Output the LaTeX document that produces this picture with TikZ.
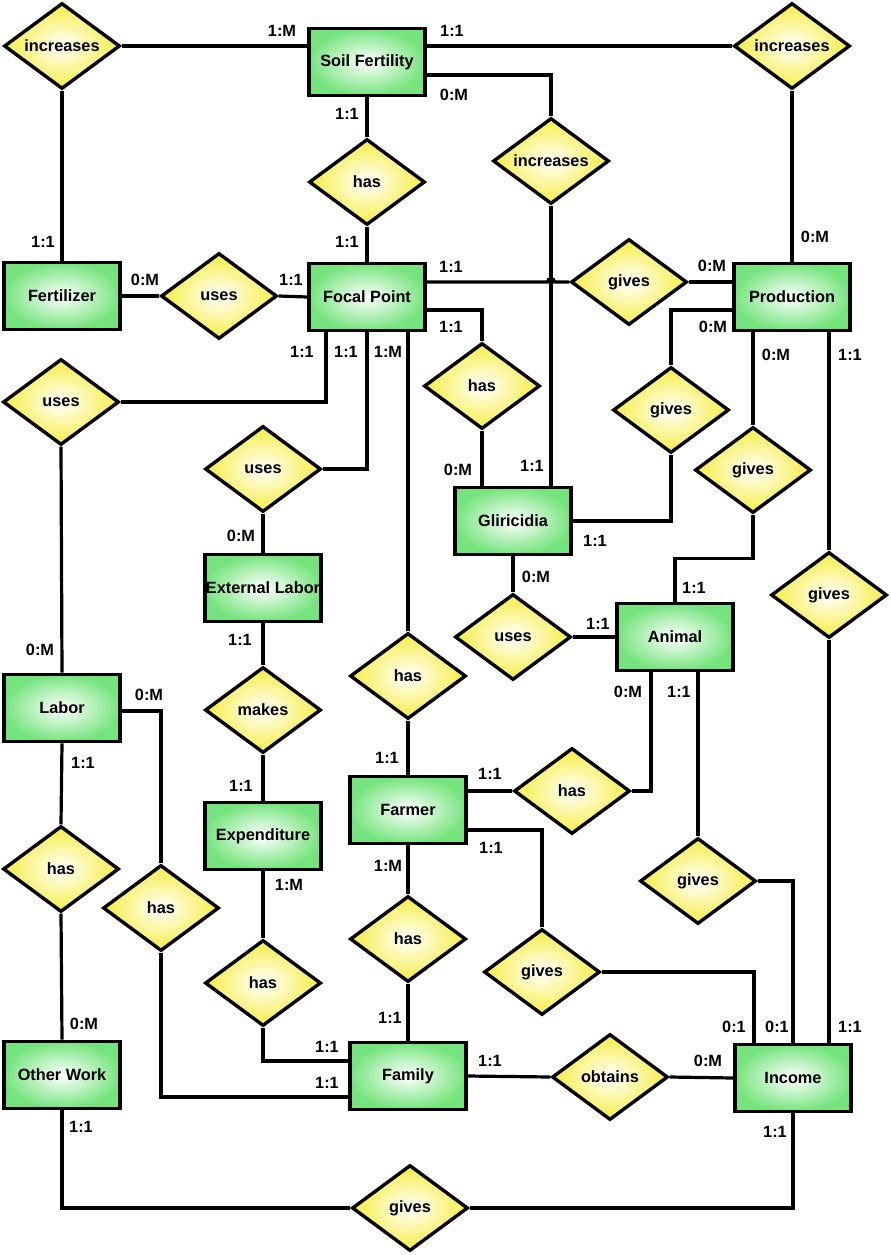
\documentclass[tikz,border=0pt]{standalone}
\usepackage{fontspec}
\setmainfont{Liberation Sans}
\usetikzlibrary{shapes.geometric}
\definecolor{erent}{RGB}{118,228,126}
\definecolor{errel}{RGB}{246,238,68}

\begin{document}
\begin{tikzpicture}[
    x=1pt, y=-1pt,
    font=\fontsize{16.3}{19}\selectfont\bfseries,
    link/.style={draw=black, line width=3.2pt},
    E/.style={rectangle, draw=black, line width=3.6pt, minimum width=116pt, minimum height=67pt,
      inner sep=0pt, inner color=white, outer color=erent},
    R/.style={diamond, draw=black, line width=3.4pt, shape aspect=1.34, minimum width=116pt,
      minimum height=86pt, inner sep=0pt, inner color=white, outer color=errel},
    card/.style={inner sep=0pt},
  ]
  \useasboundingbox (0,0) rectangle (891,1255);

  %% ================= entities =================
  \node[E] (sf)   at (367,62)   {Soil Fertility};
  \node[E] (fert) at (62,296)   {Fertilizer};
  \node[E] (fp)   at (367,297)  {Focal Point};
  \node[E] (prod) at (792,297)  {Production};
  \node[E] (glir) at (513,521)  {Gliricidia};
  \node[E] (ext)  at (263,588)  {External Labor};
  \node[E] (anim) at (675,637)  {Animal};
  \node[E] (lab)  at (62,708)   {Labor};
  \node[E] (farm) at (408,810)  {Farmer};
  \node[E] (expd) at (263,836)  {Expenditure};
  \node[E] (oth)  at (62,1075)  {Other Work};
  \node[E] (fam)  at (408,1076) {Family};
  \node[E] (inc)  at (793,1078) {Income};

  %% ================= relationships =================
  \node[R] (rIncL)     at (62,46)    {increases};
  \node[R] (rIncR)     at (792,46)   {increases};
  \node[R] (rIncM)     at (551,161)  {increases};
  \node[R] (rHasSF)    at (367,182)  {has};
  \node[R] (rUseFert)  at (219,296)  {uses};
  \node[R] (rGiveFP)   at (629,282)  {gives};
  \node[R] (rHasGl)    at (482,386)  {has};
  \node[R] (rGiveGl)   at (671,410)  {gives};
  \node[R] (rGiveAn)   at (753,470)  {gives};
  \node[R] (rGiveInc)  at (829,595)  {gives};
  \node[R] (rUseAn)    at (513,637)  {uses};
  \node[R] (rUseLab)   at (61,402)   {uses};
  \node[R] (rUseExt)   at (263,469)  {uses};
  \node[R] (rHasFarm)  at (408,676)  {has};
  \node[R] (rMakes)    at (263,710)  {makes};
  \node[R] (rHasOth)   at (61,869)   {has};
  \node[R] (rHasLab)   at (161,908)  {has};
  \node[R] (rHasExp)   at (263,983)  {has};
  \node[R] (rHasFam)   at (408,939)  {has};
  \node[R] (rHasAn)    at (572,791)  {has};
  \node[R] (rGiveAI)   at (698,881)  {gives};
  \node[R] (rGiveFarm) at (542,972)  {gives};
  \node[R] (rObt)      at (610,1077) {obtains};
  \node[R] (rGiveOth)  at (410,1208) {gives};

  %% ================= connectors =================
  % top row
  \draw[link] (rIncL.east) -- (sf.west |- rIncL.east);
  \draw[link] (rIncL.south) -- (fert.north);
  \draw[link] (sf.east |- rIncR.west) -- (rIncR.west);
  \draw[link] (rIncR.south) -- (prod.north);
  \draw[link] ([yshift=-13pt]sf.east) -| (rIncM.north);
  \draw[link] (sf.south) -- (rHasSF.north);
  \draw[link] (rHasSF.south) -- (fp.north);

  % focal point row (the line to gives hops over the increases line)
  \coordinate (hop) at (rIncM.south |- rGiveFP.west);
  \draw[link] (rIncM.south) -- (rIncM.south |- glir.north);
  \draw[link] (fert.east) -- (rUseFert.west);
  \draw[link] (rUseFert.east) -- (fp.west);
  \draw[link] (fp.east |- rGiveFP.west) -- ([xshift=-3.5pt]hop)
    arc[start angle=180, end angle=0, radius=3.5pt] -- (rGiveFP.west);
  \draw[link] (rGiveFP.east) -- (prod.west |- rGiveFP.east);
  \draw[link] ([yshift=-13pt]fp.east) -| (rHasGl.north);
  \draw[link] (rHasGl.south) -- (rHasGl.south |- glir.north);

  % production branches
  \draw[link] ([yshift=-13pt]prod.west) -| (rGiveGl.north);
  \draw[link] (rGiveGl.south) |- (glir.east);
  \draw[link] (prod.south -| rGiveAn.north) -- (rGiveAn.north);
  \draw[link] (rGiveAn.south) |- ([yshift=43pt]anim.north) -- (anim.north);
  \draw[link] (prod.south -| rGiveInc.north) -- (rGiveInc.north);
  \draw[link] (rGiveInc.south) -- (inc.north -| rGiveInc.south);
  \draw[link] (glir.south) -- (rUseAn.north);
  \draw[link] (rUseAn.east) -- (anim.west);

  % focal point downwards
  \draw[link] ([xshift=-41pt]fp.south) |- (rUseLab.east);
  \draw[link] (rUseLab.south) -- (lab.north);
  \draw[link] (fp.south) |- (rUseExt.east);
  \draw[link] (rUseExt.south) -- (ext.north);
  \draw[link] (fp.south -| rHasFarm.north) -- (rHasFarm.north);
  \draw[link] (rHasFarm.south) -- (farm.north);
  \draw[link] (ext.south) -- (rMakes.north);
  \draw[link] (rMakes.south) -- (expd.north);

  % labor, expenditure, farmer -> family
  \draw[link] (lab.south) -- (rHasOth.north);
  \draw[link] (rHasOth.south) -- (oth.north);
  \draw[link] ([yshift=-3pt]lab.east) -| (rHasLab.north);
  \draw[link] (rHasLab.south) |- ([yshift=-21pt]fam.west);
  \draw[link] (expd.south) -- (rHasExp.north);
  \draw[link] (rHasExp.south) |- ([yshift=15pt]fam.west);
  \draw[link] (farm.south) -- (rHasFam.north);
  \draw[link] (rHasFam.south) -- (fam.north);

  % animal, farmer -> income
  \draw[link] (farm.east |- rHasAn.west) -- (rHasAn.west);
  \draw[link] (rHasAn.east) -| ([xshift=-24pt]anim.south);
  \draw[link] (anim.south -| rGiveAI.north) -- (rGiveAI.north);
  \draw[link] (rGiveAI.east) -| (inc.north);
  \draw[link] ([yshift=-20pt]farm.east) -| (rGiveFarm.north);
  \draw[link] (rGiveFarm.east) -| ([xshift=-39pt]inc.north);
  \draw[link] (fam.east) -- (rObt.west);
  \draw[link] (rObt.east) -- (inc.west);
  \draw[link] (oth.south) |- (rGiveOth.west);
  \draw[link] (rGiveOth.east) -| (inc.south);

  %% ================= cardinalities =================
  \foreach \lx/\ly/\lt [count=\k] in {
      282/31/1:M, 452/31/1:1, 454/95/0:M, 347/114/1:1, 347/242/1:1, 43/242/1:1,
      145/280/0:M, 291/280/1:1, 815/237/0:M, 451/267/1:1, 712/266/0:M, 451/327/1:1,
      713/327/0:M, 302/352/1:1, 346/352/1:1, 388/352/1:M, 241/536/0:M, 240/640/1:1,
      40/650/0:M, 776/355/0:M, 850/355/1:1, 458/470/0:M, 532/466/1:1, 595/541/1:1,
      536/577/0:M, 694/588/1:1, 598/624/1:1, 149/695/0:M, 83/763/1:1, 241/786/1:1,
      387/758/1:1, 388/866/1:M, 289/885/1:M, 628/692/0:M, 679/692/1:1, 490/774/1:1,
      491/848/1:1, 84/1024/0:M, 327/1047/1:1, 327/1083/1:1, 81/1127/1:1, 390/1018/1:1,
      734/1027/0:1, 777/1027/0:1, 850/1027/1:1, 490/1061/1:1, 708/1061/0:M, 775/1132/1:1} {
    \node[card] (c\k) at (\lx,\ly) {\lt};
  }

\end{tikzpicture}
\end{document}
